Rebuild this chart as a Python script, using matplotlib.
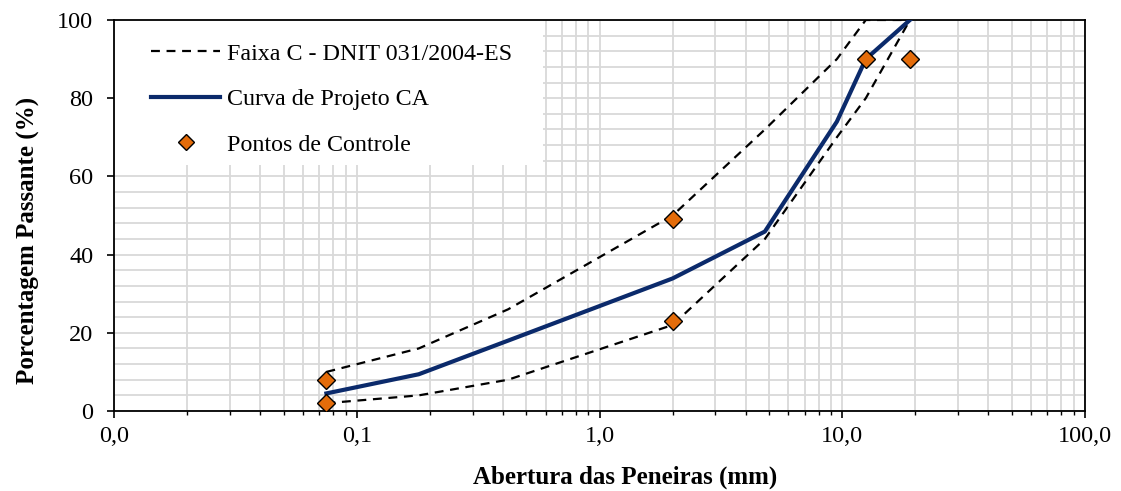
import matplotlib.pyplot as plt
import matplotlib.ticker as mticker
from matplotlib.patches import Rectangle

plt.rcParams["font.family"] = ["Liberation Serif", "DejaVu Serif"]

# peneiras (mm)
sieves = [0.075, 0.18, 0.42, 2.0, 4.8, 9.5, 12.5, 19.0]
faixa_sup = [10, 16, 26, 50, 72, 90, 100, 100]
faixa_inf = [2, 4, 8, 22, 44, 70, 80, 100]
projeto = [4.5, 9.4, 18, 33.9, 45.9, 74, 90, 100]

ctrl_x = [0.075, 0.075, 2.0, 2.0, 12.5, 19.0]
ctrl_y = [8, 2, 49, 23, 90, 90]

fig = plt.figure(figsize=(11.21, 4.91), dpi=100)
ax = fig.add_axes([0.1017, 0.1629, 0.8662, 0.7964])

ax.set_xscale("log")
ax.set_xlim(0.01, 100)
ax.set_ylim(0, 100)

ax.plot(sieves, faixa_sup, color="black", lw=1.6, ls=(0, (4, 3)),
        label="Faixa C - DNIT 031/2004-ES", zorder=3)
ax.plot(sieves, faixa_inf, color="black", lw=1.6, ls=(0, (4, 3)), zorder=3)
ax.plot(sieves, projeto, color="#0b2a6b", lw=3, label="Curva de Projeto CA", zorder=4)
ax.plot(ctrl_x, ctrl_y, ls="none", marker="D", ms=9.5, mfc="#e46c0a", mec="black",
        mew=1, label="Pontos de Controle", zorder=5)

ax.yaxis.set_major_locator(mticker.MultipleLocator(20))
ax.yaxis.set_minor_locator(mticker.MultipleLocator(4))
ax.xaxis.set_major_locator(mticker.LogLocator(base=10, numticks=10))
ax.xaxis.set_minor_locator(mticker.LogLocator(base=10, subs=range(2, 10), numticks=20))
ax.xaxis.set_major_formatter(mticker.FuncFormatter(lambda v, p: f"{v:.1f}".replace(".", ",")))
ax.xaxis.set_minor_formatter(mticker.NullFormatter())

ax.grid(True, which="both", color="#d9d9d9", lw=1.3, zorder=0)
ax.set_axisbelow(True)

ax.tick_params(axis="both", which="major", direction="out", length=5, width=1.2,
               labelsize=17.5, colors="black")
ax.tick_params(axis="x", which="minor", direction="out", length=3, width=1)
ax.tick_params(axis="y", which="minor", length=0)
ax.tick_params(axis="x", pad=6)
ax.tick_params(axis="y", pad=10)

for s in ax.spines.values():
    s.set_linewidth(1.3)
    s.set_color("black")

ax.set_xlabel("Abertura das Peneiras (mm)", fontsize=18, fontweight="bold",
              labelpad=13, x=0.526)
ax.set_ylabel("Porcentagem Passante (%)", fontsize=18, fontweight="bold",
              labelpad=12, y=0.437)

# white legend area (hides the grid like the original)
ax.add_patch(Rectangle((0.001, 0.629), 0.441, 0.371, transform=ax.transAxes,
                       facecolor="white", edgecolor="none", zorder=1))

leg = ax.legend(loc="upper left", bbox_to_anchor=(0.0378, 0.941), fontsize=17.3,
                frameon=False, handlelength=2.9, handletextpad=0.28,
                labelspacing=0.98, borderpad=0, borderaxespad=0, markerscale=0.9)

fig.savefig("out.png", dpi=100)
